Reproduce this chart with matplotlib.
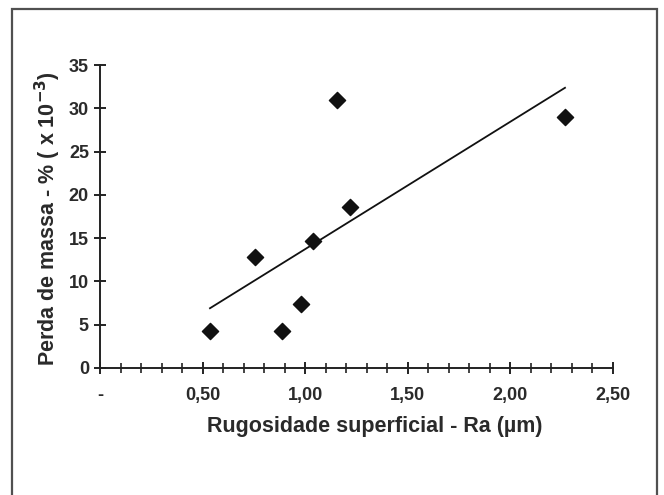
import numpy as np
import matplotlib
matplotlib.use("Agg")
import matplotlib.pyplot as plt
from matplotlib.patches import Rectangle

# rugosidade (um) vs perda de massa (% x 10^-3)
ra = [0.536, 0.754, 0.885, 0.978, 1.039, 1.156, 1.217, 2.266]
perda = [4.3, 12.85, 4.3, 7.4, 14.7, 30.95, 18.6, 29.0]

xticks = [0, 0.5, 1.0, 1.5, 2.0, 2.5]
xticklabels = ["-", "0,50", "1,00", "1,50", "2,00", "2,50"]
yticks = [0, 5, 10, 15, 20, 25, 30, 35]

plt.rcParams['font.family'] = ['Liberation Sans', 'DejaVu Sans']

fig = plt.figure(figsize=(6.64, 4.95), dpi=100)
ax = fig.add_axes([100/664, 1-368/495, 513/664, 303/495])

# outer frame of the picture
fig.patches.append(Rectangle((12/664, -0.05), 645/664, 1-9/495+0.05,
                             transform=fig.transFigure, fill=False,
                             edgecolor='#505050', lw=1.6))

ax.scatter(ra, perda, marker='D', s=68, color='#111111', zorder=3)

# linear trend line
a, b = np.polyfit(ra, perda, 1)
xl = np.array([min(ra), max(ra)])
ax.plot(xl, a*xl + b, color='#111111', lw=1.3)

ax.set_xlim(0, 2.5)
ax.set_ylim(0, 35)
ax.set_xticks(xticks)
ax.set_xticklabels(xticklabels)
ax.set_xticks(np.arange(0, 2.51, 0.1), minor=True)
ax.set_yticks(yticks)

for s in ['top', 'right']:
    ax.spines[s].set_visible(False)
for s in ['left', 'bottom']:
    ax.spines[s].set_linewidth(1.4)
    ax.spines[s].set_color('#222222')

ax.tick_params(axis='both', which='major', direction='inout', length=8,
               width=1.4, color='#222222', labelsize=13, labelcolor='#2a2a2a')
ax.tick_params(axis='x', which='minor', direction='inout', length=7,
               width=1.2, color='#222222')
ax.tick_params(axis='x', which='major', pad=10)
ax.tick_params(axis='y', which='major', pad=4)
for t in ax.get_xticklabels() + ax.get_yticklabels():
    t.set_fontweight('bold')

ax.set_xlabel("Rugosidade superficial - Ra (µm)", fontsize=15.5,
              fontweight='bold', color='#2a2a2a')
ax.set_ylabel("Perda de massa - % ( x 10$^{\\mathbf{-3}}$)", fontsize=15.5,
              fontweight='bold', color='#2a2a2a')
ax.xaxis.set_label_coords(0.535, -0.160)
ax.yaxis.set_label_coords(-0.072, 0.492)

fig.savefig("out.png", dpi=100)
